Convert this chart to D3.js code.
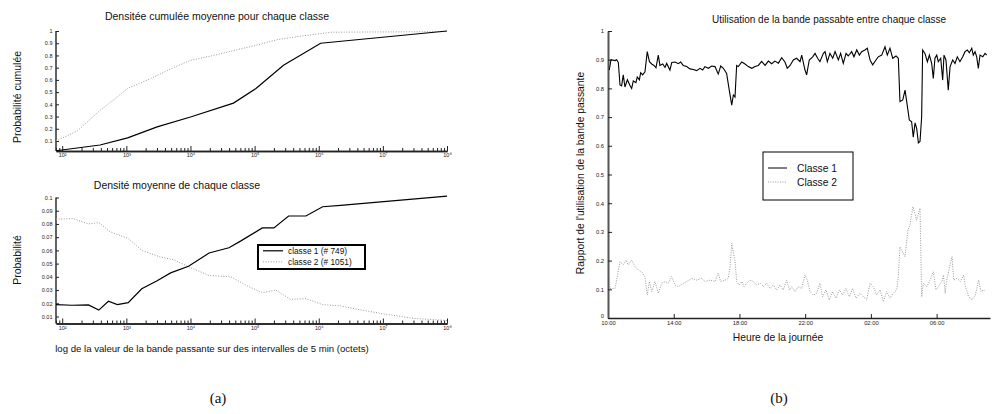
<!DOCTYPE html>
<html><head><meta charset="utf-8">
<script src="https://cdn.jsdelivr.net/npm/d3@7"></script>
<style>
html,body{margin:0;padding:0;background:#fff;}
svg{display:block;font-family:"Liberation Sans",Arial,Helvetica,sans-serif;}
</style></head>
<body><svg id="c" width="1008" height="414"></svg>
<script>
// ---------- DATA ----------
// (a) top: mean cumulative density (bandwidth in bytes per 5 min)
const cumBytes1 = [80, 389, 1047, 3020, 10000, 46800, 105000, 282000, 1070000, 100000000];
const cumProb1  = [0.02, 0.067, 0.126, 0.215, 0.296, 0.41, 0.53, 0.72, 0.90, 1.0];
const cumBytes2 = [80, 170, 389, 630, 1047, 2400, 4900, 10000, 22900, 46800, 100000, 229000, 560000, 1600000, 100000000];
const cumProb2  = [0.10, 0.18, 0.35, 0.435, 0.53, 0.61, 0.69, 0.76, 0.80, 0.84, 0.88, 0.93, 0.96, 0.99, 0.995];
// (a) bottom: mean density
const densBytes1 = [80, 141, 257, 372, 525, 724, 1070, 1740, 3020, 4900, 9330, 19500, 39800, 60300, 132000, 200000, 339000, 631000, 1150000, 2190000, 100000000];
const densProb1  = [0.019, 0.0185, 0.0188, 0.0148, 0.0215, 0.019, 0.0205, 0.031, 0.037, 0.043, 0.048, 0.058, 0.062, 0.067, 0.077, 0.077, 0.086, 0.086, 0.093, 0.094, 0.101];
const densBytes2 = [80, 148, 257, 372, 562, 1070, 1740, 3390, 5370, 10000, 19500, 42700, 77600, 132000, 214000, 363000, 631000, 1150000, 2190000, 3980000, 10000000, 31600000, 100000000];
const densProb2  = [0.0836, 0.084, 0.080, 0.081, 0.074, 0.069, 0.060, 0.055, 0.053, 0.047, 0.041, 0.040, 0.033, 0.028, 0.030, 0.023, 0.0235, 0.019, 0.018, 0.0155, 0.012, 0.0085, 0.007];
const logTickValues = [1e2, 1e3, 1e4, 1e5, 1e6, 1e7, 1e8];
const logTickLabels = ["10\u00B2", "10\u00B3", "10\u2074", "10\u2075", "10\u2076", "10\u2077", "10\u2078"];
const cumTickValues = [0.1, 0.2, 0.3, 0.4, 0.5, 0.6, 0.7, 0.8, 0.9, 1];
const cumTickLabels = ["0.1", "0.2", "0.3", "0.4", "0.5", "0.6", "0.7", "0.8", "0.9", "1"];
const densTickValues = [0.01, 0.02, 0.03, 0.04, 0.05, 0.06, 0.07, 0.08, 0.09, 0.1];
const densTickLabels = ["0.01", "0.02", "0.03", "0.04", "0.05", "0.06", "0.07", "0.08", "0.09", "0.1"];
const legendA = ["classe 1 (# 749)", "classe 2 (# 1051)"];

// (b) bandwidth utilisation ratio; time in hours after 10:00
const hours1 = [0.08,0.18,0.43,0.53,0.63,0.73,0.83,0.93,1.03,1.18,1.34,1.44,1.54,1.70,1.78,1.91,1.99,2.11,2.25,2.39,2.52,2.66,2.80,2.92,3.06,3.16,3.33,3.47,3.57,3.77,3.88,4.08,4.28,4.42,4.58,4.79,4.99,5.19,5.40,5.60,5.76,5.90,6.11,6.31,6.51,6.71,6.86,7.02,7.22,7.38,7.53,7.63,7.73,7.83,7.93,8.14,8.34,8.54,8.75,8.95,9.15,9.35,9.56,9.76,9.96,10.16,10.37,10.57,10.77,10.91,11.08,
  11.28,11.48,11.69,11.79,11.99,12.09,12.25,12.46,12.60,12.76,12.90,13.11,13.21,13.35,13.51,13.68,13.82,14.02,14.16,14.32,14.49,14.62,14.83,14.97,15.14,15.30,15.44,15.64,15.78,15.95,16.11,16.31,16.45,16.66,16.86,17.00,17.16,17.33,17.53,17.67,17.77,17.94,18.08,18.18,18.34,18.48,18.58,18.69,18.79,18.89,18.99,19.09,19.15,
  19.29,19.44,19.56,19.70,19.80,19.90,20.01,20.10,20.25,20.37,20.45,20.57,20.71,20.82,20.98,21.12,21.26,21.42,21.59,21.73,21.87,21.99,22.14,22.23,22.34,22.44,22.54,22.64,22.81,22.95,23.05];
const ratio1 = [0.864,0.90,0.897,0.90,0.89,0.812,0.809,0.847,0.805,0.83,0.81,0.80,0.826,0.82,0.84,0.83,0.855,0.847,0.858,0.928,0.893,0.885,0.88,0.872,0.916,0.88,0.885,0.873,0.887,0.864,0.89,0.892,0.886,0.892,0.88,0.876,0.868,0.866,0.862,0.87,0.864,0.876,0.87,0.878,0.876,0.85,0.878,0.87,0.852,0.794,0.742,0.777,0.77,0.88,0.876,0.892,0.885,0.876,0.87,0.876,0.88,0.894,0.88,0.895,0.886,0.895,0.888,0.907,0.892,0.87,0.88,
  0.899,0.905,0.893,0.916,0.864,0.847,0.899,0.910,0.922,0.905,0.893,0.922,0.928,0.893,0.922,0.905,0.928,0.899,0.922,0.887,0.922,0.913,0.928,0.910,0.934,0.916,0.928,0.934,0.940,0.899,0.882,0.899,0.910,0.916,0.945,0.916,0.940,0.905,0.913,0.905,0.754,0.760,0.794,0.754,0.690,0.684,0.63,0.68,0.66,0.61,0.615,0.70,0.934,
  0.922,0.893,0.916,0.887,0.835,0.905,0.916,0.893,0.905,0.829,0.916,0.899,0.794,0.876,0.899,0.887,0.910,0.893,0.910,0.928,0.934,0.924,0.940,0.916,0.928,0.910,0.870,0.916,0.910,0.922,0.916];
const hours2 = [0.08,0.12,0.43,0.63,0.73,0.93,1.10,1.24,1.44,1.64,1.85,2.05,2.25,2.39,2.52,2.66,2.86,3.06,3.27,3.47,3.67,3.87,4.08,4.28,4.59,4.79,5.09,5.40,5.70,5.90,6.21,6.51,6.71,6.86,7.12,7.32,7.43,7.53,7.64,7.73,7.83,7.99,8.14,8.28,8.44,8.64,8.85,9.05,9.29,9.45,9.66,9.86,10.06,10.27,10.47,10.67,10.87,11.04,11.18,11.38,11.58,11.79,11.99,12.13,12.30,12.50,12.70,12.90,13.06,13.27,13.47,13.67,13.87,14.08,14.28,14.48,14.69,14.89,15.09,15.33,15.54,15.74,15.95,16.15,16.35,16.56,16.76,16.96,17.16,17.36,17.57,17.67,17.77,18.08,18.26,18.38,18.56,18.79,18.99,19.09,19.19,19.40,19.60,19.80,19.96,20.11,20.32,20.42,20.52,20.62,20.79,20.94,21.04,21.24,21.45,21.65,21.75,21.95,22.16,22.36,22.56,22.70,22.86,22.96];
const ratio2 = [0.144,0.103,0.103,0.167,0.196,0.185,0.202,0.185,0.202,0.179,0.167,0.161,0.144,0.080,0.127,0.092,0.127,0.086,0.121,0.127,0.121,0.144,0.115,0.109,0.121,0.127,0.138,0.132,0.138,0.127,0.132,0.127,0.156,0.127,0.132,0.138,0.179,0.26,0.225,0.20,0.127,0.115,0.127,0.109,0.121,0.132,0.127,0.115,0.121,0.109,0.121,0.103,0.115,0.098,0.115,0.098,0.132,0.098,0.109,0.092,0.109,0.103,0.150,0.132,0.092,0.080,0.086,0.121,0.074,0.098,0.063,0.092,0.069,0.098,0.080,0.103,0.074,0.103,0.069,0.086,0.074,0.063,0.121,0.109,0.080,0.098,0.057,0.092,0.069,0.086,0.098,0.144,0.248,0.214,0.307,0.324,0.388,0.341,0.383,0.074,0.121,0.109,0.132,0.161,0.098,0.109,0.127,0.150,0.086,0.132,0.179,0.214,0.132,0.138,0.127,0.150,0.109,0.074,0.063,0.080,0.132,0.092,0.098,0.092];
const timeTickValues = [0, 4, 8, 12, 16, 20];
const timeTickLabels = ["10:00", "14:00", "18:00", "22:00", "02:00", "06:00"];
const ratioTickValues = [0, 0.1, 0.2, 0.3, 0.4, 0.5, 0.6, 0.7, 0.8, 0.9, 1];
const ratioTickLabels = ["0", "0.1", "0.2", "0.3", "0.4", "0.5", "0.6", "0.7", "0.8", "0.9", "1"];
const legendB = ["Classe 1", "Classe 2"];

// ---------- DRAW ----------
const svg = d3.select("#c");
svg.append("rect").attr("width",1008).attr("height",414).attr("fill","#fff");
const AX = "#222", DOT = "#9a9a9a";

function styleAxis(g){
  g.select(".domain").attr("stroke",AX).attr("stroke-width",1.4);
  g.selectAll(".tick line").attr("stroke",AX).attr("stroke-width",1);
  g.selectAll(".tick text").attr("fill","#222").attr("font-family","'Liberation Sans',Arial,sans-serif");
}

function logPanel(yDomain, yRange, yVals, yLabs, series){
  const x = d3.scaleLog().domain([80, 1e8]).range([56, 447]);
  const y = d3.scaleLinear().domain(yDomain).range(yRange);
  const g = svg.append("g");
  const minor = x.ticks().filter(v => logTickValues.indexOf(v) < 0);
  g.append("g").attr("transform",`translate(0,${yRange[0]})`)
    .call(d3.axisBottom(x).tickValues(minor).tickFormat("").tickSizeInner(-3).tickSizeOuter(0))
    .call(styleAxis);
  const xa = g.append("g").attr("transform",`translate(0,${yRange[0]})`)
    .call(d3.axisBottom(x).tickValues(logTickValues).tickFormat((d,i)=>logTickLabels[i]).tickSizeInner(-5).tickSizeOuter(0).tickPadding(2.5))
    .call(styleAxis);
  xa.selectAll(".tick text").attr("font-size",5.5);
  const ya = g.append("g").attr("transform","translate(56,0)")
    .call(d3.axisLeft(y).tickValues(yVals).tickFormat((d,i)=>yLabs[i]).tickSizeInner(-3).tickSizeOuter(0).tickPadding(3.5))
    .call(styleAxis);
  ya.selectAll(".tick text").attr("font-size",5.5);
  ya.select(".domain").attr("d", `M0,${yRange[0]}V${y(yVals[yVals.length-1])}`);
  series.forEach(s => {
    const pts = s.xs.map((v,i)=>[v, s.ys[i]]);
    g.append("path").datum(pts)
      .attr("d", d3.line().x(d=>x(d[0])).y(d=>y(d[1])))
      .attr("fill","none").attr("stroke", s.dotted ? DOT : "#000")
      .attr("stroke-width", s.dotted ? 1 : 1.2)
      .attr("stroke-dasharray", s.dotted ? "1,1.6" : null);
  });
  return g;
}

logPanel([0.018, 1], [151, 31], cumTickValues, cumTickLabels, [
  {xs: cumBytes2, ys: cumProb2, dotted: true},
  {xs: cumBytes1, ys: cumProb1, dotted: false}
]);
logPanel([0.0047, 0.1], [323.5, 197.5], densTickValues, densTickLabels, [
  {xs: densBytes2, ys: densProb2, dotted: true},
  {xs: densBytes1, ys: densProb1, dotted: false}
]);

function txt(x,y,s,size,opts={}){
  const t = svg.append("text").attr("x",x).attr("y",y).text(s)
    .attr("font-size",size).attr("text-anchor",opts.anchor||"middle").attr("fill","#111");
  if(opts.rot) t.attr("transform",`rotate(-90,${x},${y})`);
  if(opts.family) t.attr("font-family",opts.family);
  return t;
}
txt(217, 20, "Densitée cumulée moyenne pour chaque classe", 10.5);
txt(177, 189, "Densité moyenne de chaque classe", 10.5);
txt(21, 97, "Probabilité cumulée", 10.5, {rot:true});
txt(21, 260, "Probabilité", 10.5, {rot:true});
txt(212, 352, "log de la valeur de la bande passante sur des intervalles de 5 min (octets)", 9.6);

// legend (a)
svg.append("rect").attr("x",258).attr("y",245).attr("width",107).attr("height",24)
  .attr("fill","#fff").attr("stroke","#000").attr("stroke-width",2);
[0,1].forEach(i=>{
  const yy = 250.8 + i*11;
  svg.append("line").attr("x1",263).attr("x2",283).attr("y1",yy).attr("y2",yy)
    .attr("stroke", i ? DOT : "#000").attr("stroke-width", i?1:1.2).attr("stroke-dasharray", i ? "1,1.6" : null);
  txt(288, yy+3, legendA[i], 8.3, {anchor:"start"});
});

// ---------- panel (b) ----------
const xb = d3.scaleLinear().domain([0, 23.25]).range([608, 990]);
const yb = d3.scaleLinear().domain([0, 1]).range([318, 31]);
const gb = svg.append("g");
const xba = gb.append("g").attr("transform","translate(0,318)")
  .call(d3.axisBottom(xb).tickValues(timeTickValues).tickFormat((d,i)=>timeTickLabels[i]).tickSizeInner(-4).tickSizeOuter(0).tickPadding(2.5))
  .call(styleAxis);
xba.selectAll(".tick text").attr("font-size",5.8);
const yba = gb.append("g").attr("transform","translate(608,0)")
  .call(d3.axisLeft(yb).tickValues(ratioTickValues).tickFormat((d,i)=>ratioTickLabels[i]).tickSizeInner(-4).tickSizeOuter(0).tickPadding(4))
  .call(styleAxis);
yba.selectAll(".tick text").attr("font-size",5.8);
yba.selectAll(".tick text").filter(d => d === 0).attr("dy","-0.1em");
yba.select(".domain").attr("stroke","#555").attr("stroke-width",2);

gb.append("path").datum(hours2.map((h,i)=>[h, ratio2[i]]))
  .attr("d", d3.line().x(d=>xb(d[0])).y(d=>yb(d[1])))
  .attr("fill","none").attr("stroke",DOT).attr("stroke-width",1).attr("stroke-dasharray","1,1.4");
gb.append("path").datum(hours1.map((h,i)=>[h, ratio1[i]]))
  .attr("d", d3.line().x(d=>xb(d[0])).y(d=>yb(d[1])))
  .attr("fill","none").attr("stroke","#000").attr("stroke-width",1.1);

txt(829, 23, "Utilisation de la bande passabte entre chaque classe", 10);
txt(584, 173, "Rapport de l'utilisation de la bande passante", 10.3, {rot:true});
txt(778, 341, "Heure de la journée", 10.3);

svg.append("rect").attr("x",763).attr("y",152).attr("width",90).attr("height",48)
  .attr("fill","#fff").attr("stroke","#000").attr("stroke-width",1);
[0,1].forEach(i=>{
  const yy = 168 + i*14;
  svg.append("line").attr("x1",768).attr("x2",787).attr("y1",yy).attr("y2",yy)
    .attr("stroke", i ? DOT : "#000").attr("stroke-width", 1).attr("stroke-dasharray", i ? "1,1.4" : null);
  txt(797, yy+3.6, legendB[i], 10.3, {anchor:"start"});
});

txt(218, 403, "(a)", 15, {family:"'Liberation Serif','Times New Roman',serif"});
txt(779, 403, "(b)", 15, {family:"'Liberation Serif','Times New Roman',serif"});
</script></body></html>
